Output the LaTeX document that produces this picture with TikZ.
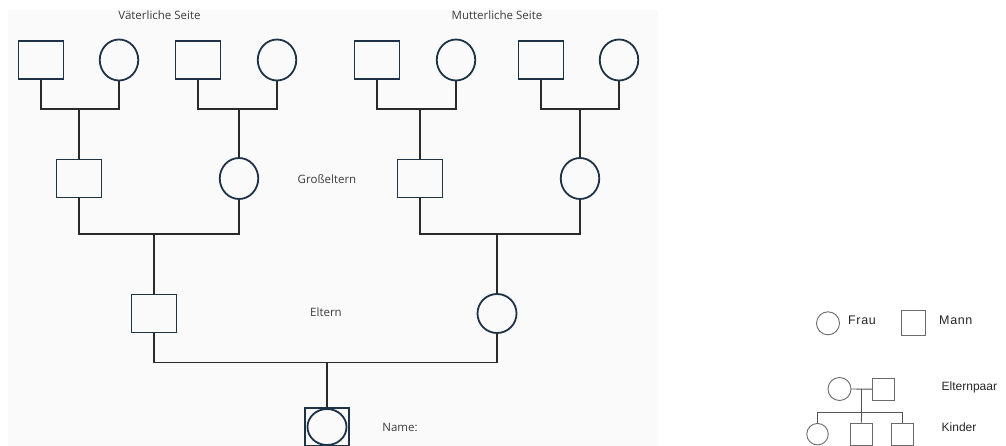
\documentclass[tikz,border=0pt]{standalone}
\usepackage{fontspec}
\setmainfont{Open Sans}
\newfontfamily\legendfont{Liberation Sans}
\newfontfamily\legendwide[LetterSpace=5]{Liberation Sans}
\usetikzlibrary{shapes.geometric}
\definecolor{shapeline}{HTML}{1F3347}
\definecolor{linkline}{HTML}{2A2A2A}
\definecolor{labeltext}{HTML}{3C3C3C}
\definecolor{panel}{HTML}{FAFAFA}
\definecolor{legendline}{HTML}{6A6A6A}
\begin{document}
\begin{tikzpicture}[x=1pt,y=-1pt,
  male/.style={draw=shapeline,line width=1.8pt,rectangle,minimum width=45pt,minimum height=38pt,inner sep=0pt},
  female/.style={draw=shapeline,line width=1.8pt,ellipse,minimum width=38.5pt,minimum height=41pt,inner sep=0pt},
  link/.style={draw=linkline,line width=1.5pt},
  label/.style={text=labeltext,font=\fontsize{11.5}{13}\selectfont,inner sep=0pt},
  lmale/.style={draw=legendline,line width=0.9pt,rectangle,minimum width=22pt,minimum height=22pt,inner sep=0pt},
  lfemale/.style={draw=legendline,line width=0.9pt,circle,minimum size=23pt,inner sep=0pt},
  llink/.style={draw=legendline!80!black,line width=0.9pt},
  ltext/.style={text=black!85,font=\legendfont\fontsize{12}{14}\selectfont,inner sep=0pt,anchor=west},
  lwide/.style={ltext,font=\legendwide\fontsize{12.5}{14}\selectfont}]
\useasboundingbox (0,0) rectangle (1006,446);
\fill[panel] (8,10) rectangle (658,446);

% headings
\node[label] (paternal) at (159.5,15) {Väterliche Seite};
\node[label] (maternal) at (497,15) {Mutterliche Seite};

% great-grandparents
\node[male]   (gg1) at (41,60)  {};
\node[female] (gg2) at (119,60) {};
\node[male]   (gg3) at (198,60) {};
\node[female] (gg4) at (277,60) {};
\node[male]   (gg5) at (377,60) {};
\node[female] (gg6) at (456,60) {};
\node[male]   (gg7) at (541,60) {};
\node[female] (gg8) at (619,60) {};

% grandparents
\node[male]   (g1) at (79,178.5)  {};
\node[female] (g2) at (239,178.5) {};
\node[male]   (g3) at (420,178.5) {};
\node[female] (g4) at (580,178.5) {};
\node[label]  (glabel) at (327,179) {Großeltern};

% parents
\node[male]   (p1) at (154,313.5) {};
\node[female,minimum width=39pt,minimum height=39pt] (p2) at (497,313.5) {};
\node[label]  (plabel) at (326,312) {Eltern};

% the person in question
\node[male,minimum width=44pt] (me) at (327,426.7) {};
\node[draw=shapeline,line width=1.8pt,ellipse,minimum width=39pt,minimum height=36pt,inner sep=0pt] (meinner) at (327,427) {};
\node[label]  (name) at (400,427) {Name:};

% couple lines
\coordinate (j1) at (79,109);
\coordinate (j2) at (239,109);
\coordinate (j3) at (420,109);
\coordinate (j4) at (580,109);
\draw[link] (gg1.south) |- (j1) -| (gg2.south);
\draw[link] (gg3.south) |- (j2) -| (gg4.south);
\draw[link] (gg5.south) |- (j3) -| (gg6.south);
\draw[link] (gg7.south) |- (j4) -| (gg8.south);
\draw[link] (j1) -- (g1.north);
\draw[link] (j2) -- (g2.north);
\draw[link] (j3) -- (g3.north);
\draw[link] (j4) -- (g4.north);

\coordinate (k1) at (154,234);
\coordinate (k2) at (497,234);
\draw[link] (g1.south) |- (k1) -| (g2.south);
\draw[link] (g3.south) |- (k2) -| (g4.south);
\draw[link] (k1) -- (p1.north);
\draw[link] (k2) -- (p2.north);

\coordinate (m1) at (327,362.7);
\draw[link] (p1.south) |- (m1) -| (p2.south);
\draw[link] (m1) -- (me.north);

% legend
\node[lfemale] (lf) at (828,323.3) {};
\node[lwide]   (lft) at (848,320) {Frau};
\node[lmale,minimum width=23.5pt,minimum height=25pt] (lm) at (913.5,322.5) {};
\node[lwide]   (lmt) at (939,320) {Mann};

\node[lfemale] (cf) at (839.5,389) {};
\node[lmale]   (cm) at (883.5,389.2) {};
\node[ltext]   (ctext) at (941.5,387.3) {Elternpaar};
\coordinate (cj) at (861.7,389.3);
\coordinate (cs) at (861.7,412.7);
\draw[llink] (cf.east) -- (cm.west);
\draw[llink] (cj) -- (cs);

\node[lfemale,minimum size=21.5pt] (k1f) at (817.5,434.2) {};
\node[lmale]   (k2m) at (861.2,434.2) {};
\node[lmale]   (k3m) at (902.5,434.2) {};
\node[ltext]   (ktext) at (941.5,427) {Kinder};
\coordinate (sl) at (817.5,412.7);
\coordinate (sr) at (902.5,412.7);
\draw[llink] (k1f.north) -- (sl) -- (sr) -- (k3m.north);
\draw[llink] (cs) -- (k2m.north);
\end{tikzpicture}
\end{document}
